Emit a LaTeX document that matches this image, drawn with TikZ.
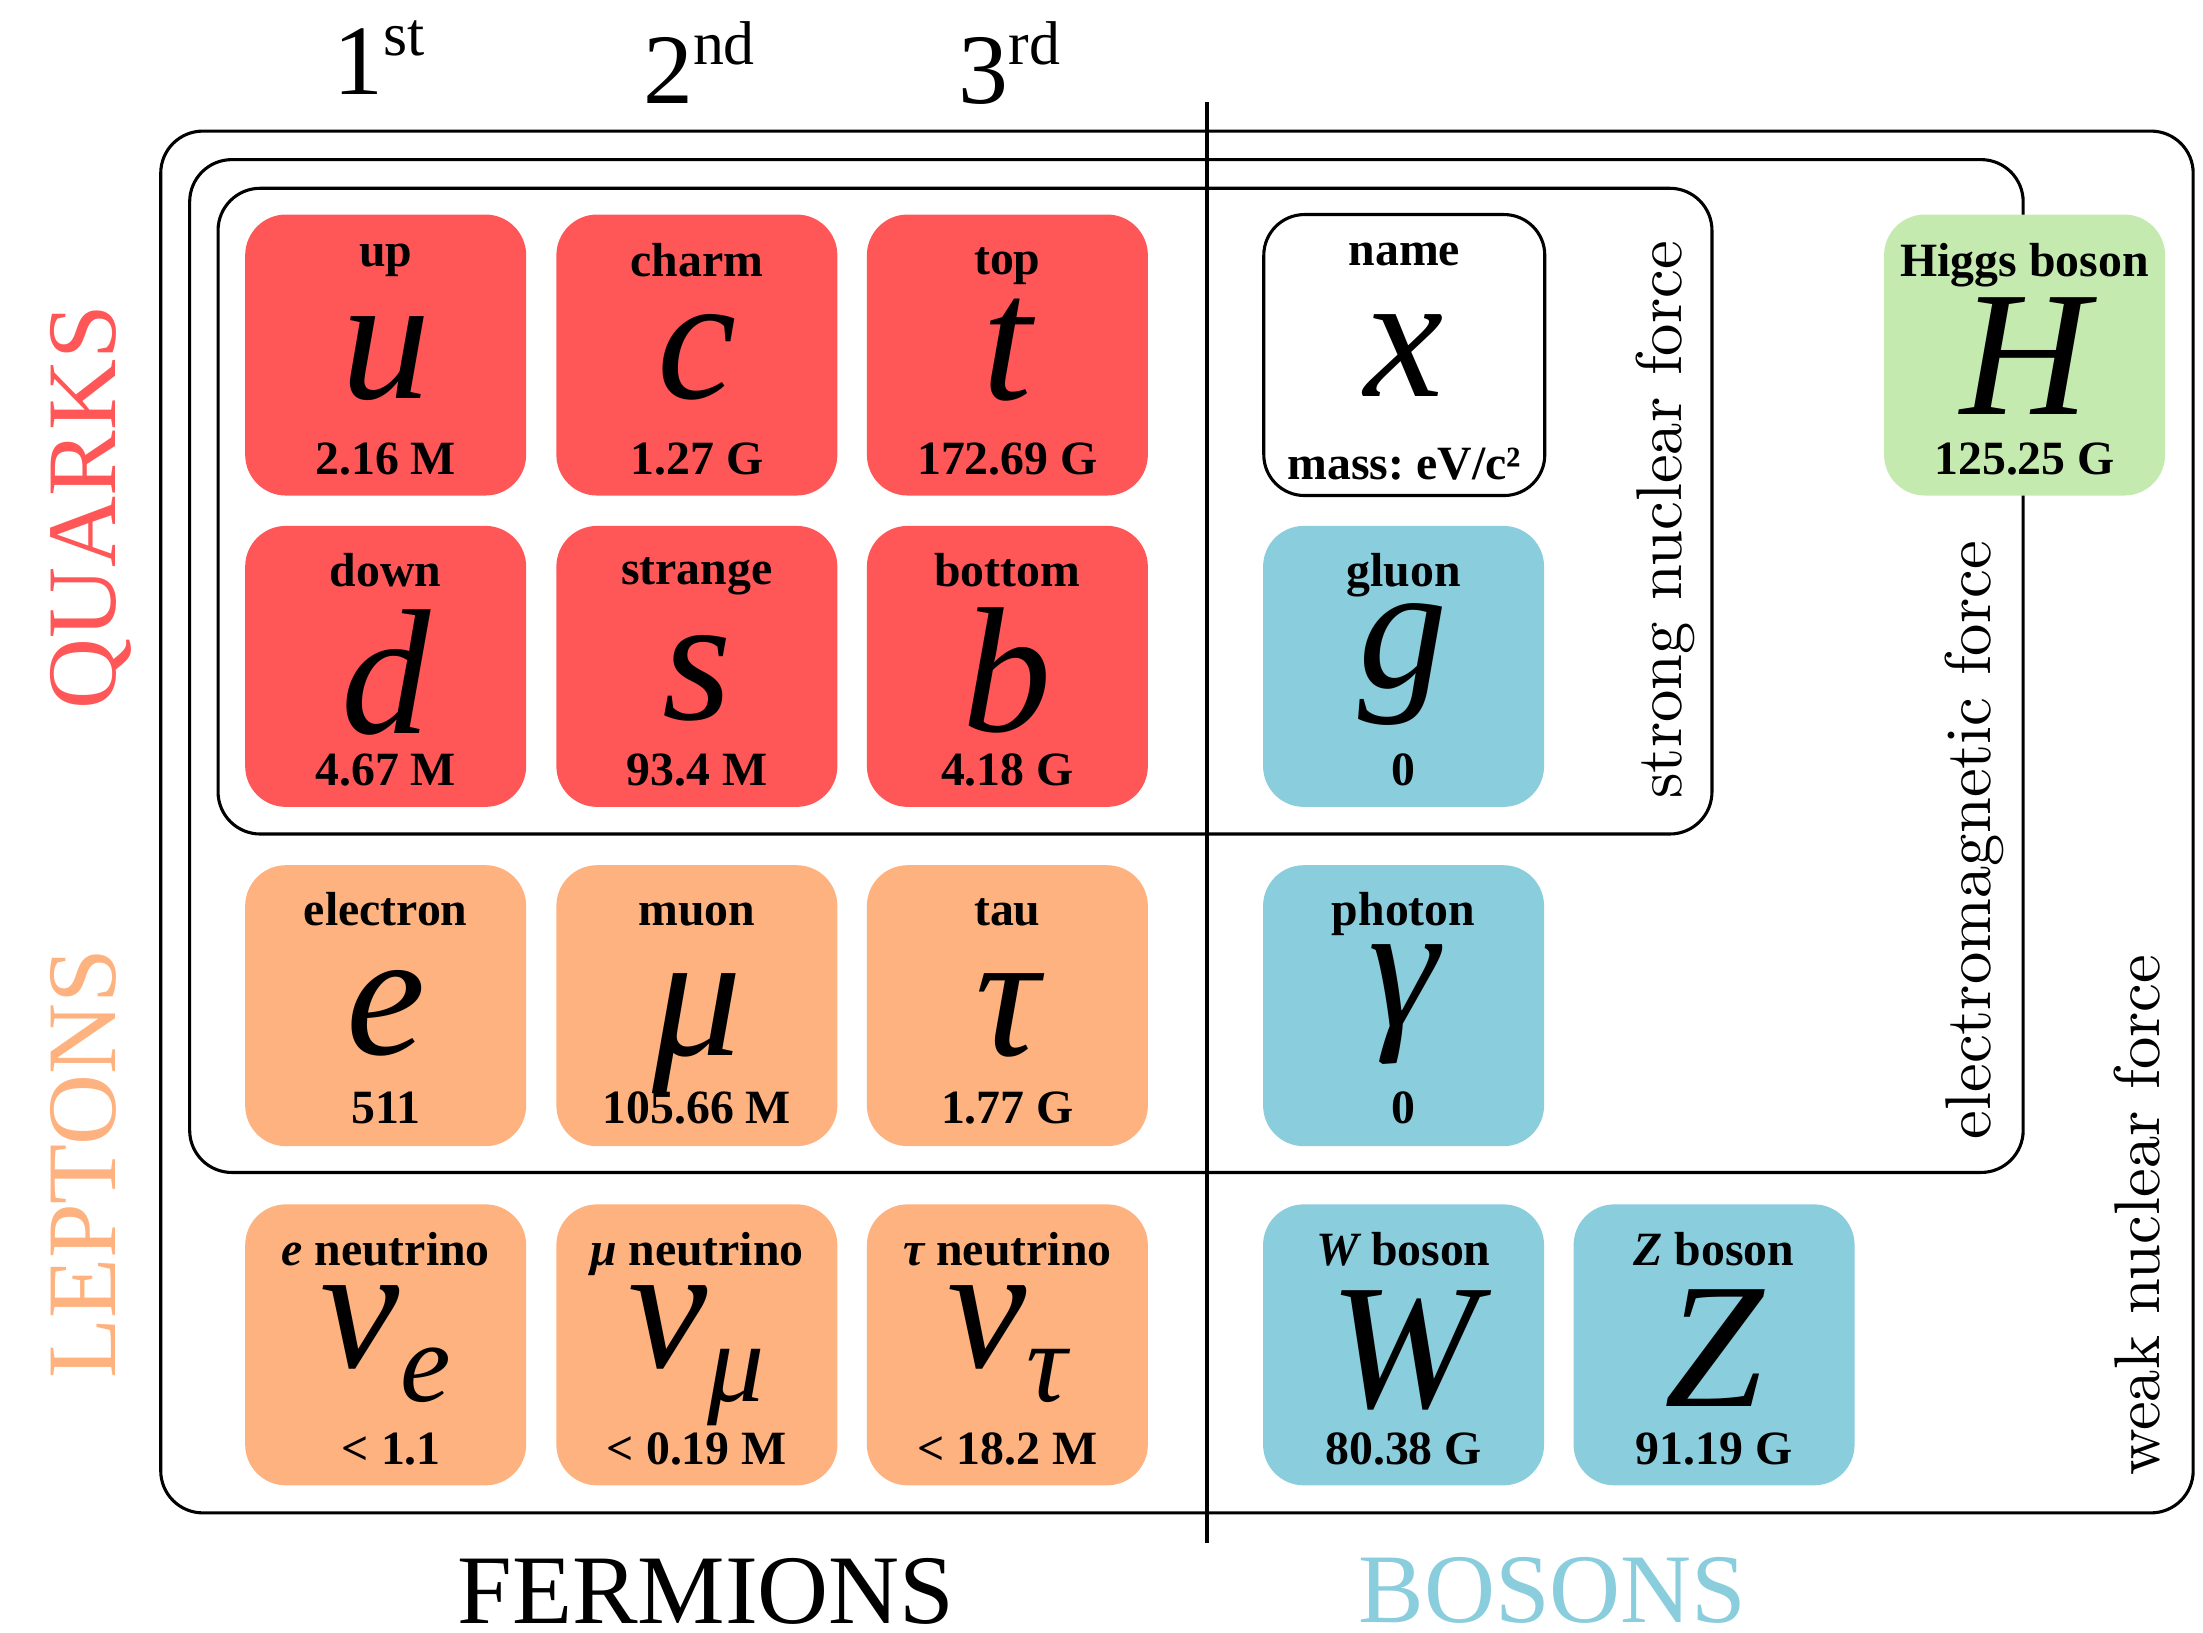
\documentclass[tikz,border=0pt]{standalone}
\usepackage{fontspec}
\newfontfamily\tnr{Liberation Serif}
\newfontfamily\lmten{lmroman10-regular.otf}
\definecolor{qred}{HTML}{FF5757}
\definecolor{lorange}{HTML}{FDB280}
\definecolor{bblue}{HTML}{8ACDDD}
\definecolor{hgreen}{HTML}{C5EAB0}
\newcommand{\fsz}[1]{\fontsize{#1}{#1}\selectfont}
\newcommand{\sub}[1]{\raisebox{-24pt}{\fsz{81}#1}}
\frenchspacing
\begin{document}
\begin{tikzpicture}[x=1pt,y=-1pt,
  card/.style={minimum width=200pt, minimum height=200pt, inner sep=0pt, rounded corners=29pt},
  lab/.style={anchor=base, inner sep=0pt, font=\tnr\bfseries\fsz{34}},
  sym/.style={anchor=base, inner sep=0pt, font=\tnr\itshape\fsz{127}},
  frame/.style={draw, line width=2.2pt, rounded corners=30pt},
  force/.style={anchor=base, rotate=90, inner sep=0pt, font=\lmten\fsz{46}},
  head/.style={anchor=base, inner sep=0pt, font=\tnr\fsz{71}},
  big/.style={anchor=base, inner sep=0pt, font=\tnr\fsz{70}},
]
\useasboundingbox (0,0) rectangle (1568,1161.6);

% frames
\draw[frame] (114.4,93.3) rectangle (1561,1076.8);
\draw[frame] (135,113.6) rectangle (1440,834.5);
\draw[frame] (155.2,134) rectangle (1218.5,593.6);
\coordinate (divtop) at (859,72.5);
\coordinate (divbot) at (859,1098);
\draw[line width=2.4pt] (divtop) -- (divbot);

% headings
\node[head] (g1) at (270,67.5) {1\raisebox{28pt}{\fsz{44}st}};
\node[head] (g2) at (497.5,73.7) {2\raisebox{28pt}{\fsz{44}nd}};
\node[head] (g3) at (718.5,73.7) {3\raisebox{28pt}{\fsz{44}rd}};
\node[big] (ferm) at (502.5,1155.5) {FERMIONS};
\node[big, text=bblue] (bos) at (1105,1155) {BOSONS};
\node[big, rotate=90, text=qred] (quarks) at (82,361) {QUARKS};
\node[big, rotate=90, text=lorange] (leptons) at (82,828.5) {LEPTONS};

% force labels
\node[force] (strongf) at (1197,370) {strong nuclear force};
\node[force] (emf) at (1417,598) {electromagnetic force};
\node[force] (weakf) at (1537,865) {weak nuclear force};

% row 1
\node[card, fill=qred] (up) at (274.5,252.7) {};
\node[card, fill=qred] (charm) at (496,252.7) {};
\node[card, fill=qred] (top) at (717,252.7) {};
\node[card, fill=white, draw, line width=2.2pt] (name) at (999.5,252.7) {};
\node[card, fill=hgreen] (higgs) at (1441,252.7) {};
% row 2
\node[card, fill=qred] (down) at (274.5,474.3) {};
\node[card, fill=qred] (strange) at (496,474.3) {};
\node[card, fill=qred] (bottom) at (717,474.3) {};
\node[card, fill=bblue] (gluon) at (999,474.3) {};
% row 3
\node[card, fill=lorange] (electron) at (274.5,715.8) {};
\node[card, fill=lorange] (muon) at (496,715.8) {};
\node[card, fill=lorange] (tau) at (717,715.8) {};
\node[card, fill=bblue] (photon) at (999,715.8) {};
% row 4
\node[card, fill=lorange] (nue) at (274.5,957.2) {};
\node[card, fill=lorange] (numu) at (496,957.2) {};
\node[card, fill=lorange] (nutau) at (717,957.2) {};
\node[card, fill=bblue] (wb) at (999,957.2) {};
\node[card, fill=bblue] (zb) at (1220,957.2) {};

% texts row 1
\node[lab] at ([yshift=-37pt]up.north) {up};
\node[sym] at ([yshift=-130.8pt]up.north) {u};
\node[lab] at ([yshift=-185.5pt]up.north) {2.16 M};
\node[lab] at ([yshift=-44.5pt]charm.north) {charm};
\node[sym] at ([yshift=-130.8pt]charm.north) {c};
\node[lab] at ([yshift=-185.5pt]charm.north) {1.27 G};
\node[lab] at ([yshift=-43pt]top.north) {top};
\node[sym] at ([yshift=-131.8pt]top.north) {t};
\node[lab] at ([yshift=-185.5pt]top.north) {172.69 G};
\node[lab] at ([yshift=-37.5pt]name.north) {name};
\node[sym] at ([yshift=-130.3pt]name.north) {x};
\node[lab] at ([yshift=-190pt]name.north) {mass: eV/c²};
\node[lab] at ([yshift=-44.4pt]higgs.north) {Higgs boson};
\node[sym] at ([yshift=-142.6pt]higgs.north) {H};
\node[lab] at ([yshift=-185pt]higgs.north) {125.25 G};
% texts row 2
\node[lab] at ([yshift=-43.5pt]down.north) {down};
\node[sym] at ([yshift=-148.2pt]down.north) {d};
\node[lab] at ([yshift=-185pt]down.north) {4.67 M};
\node[lab] at ([yshift=-42pt]strange.north) {strange};
\node[sym] at ([yshift=-137.7pt]strange.north) {s};
\node[lab] at ([yshift=-185pt]strange.north) {93.4 M};
\node[lab] at ([yshift=-43.5pt]bottom.north) {bottom};
\node[sym] at ([yshift=-146.7pt]bottom.north) {b};
\node[lab] at ([yshift=-185pt]bottom.north) {4.18 G};
\node[lab] at ([yshift=-43.5pt]gluon.north) {gluon};
\node[sym] at ([yshift=-115.5pt]gluon.north) {g};
\node[lab] at ([yshift=-185pt]gluon.north) {0};
% texts row 3
\node[lab] at ([yshift=-43pt]electron.north) {electron};
\node[sym] at ([yshift=-135.2pt]electron.north) {e};
\node[lab] at ([yshift=-184pt]electron.north) {511};
\node[lab] at ([yshift=-43pt]muon.north) {muon};
\node[sym] at ([yshift=-135.7pt]muon.north) {μ};
\node[lab] at ([yshift=-184pt]muon.north) {105.66 M};
\node[lab] at ([yshift=-43pt]tau.north) {tau};
\node[sym] at ([yshift=-135.7pt]tau.north) {τ};
\node[lab] at ([yshift=-184pt]tau.north) {1.77 G};
\node[lab] at ([yshift=-43pt]photon.north) {photon};
\node[sym] at ([yshift=-115pt]photon.north) {γ};
\node[lab] at ([yshift=-184pt]photon.north) {0};
% texts row 4
\node[lab] at ([yshift=-44pt]nue.north) {\itshape e\upshape{} neutrino};
\node[sym] at ([yshift=-116.5pt]nue.north) {ν\sub{e}};
\node[lab] at ([xshift=4pt,yshift=-185pt]nue.north) {< 1.1};
\node[lab] at ([yshift=-44pt]numu.north) {\itshape μ\upshape{} neutrino};
\node[sym] at ([yshift=-116.5pt]numu.north) {ν\sub{μ}};
\node[lab] at ([yshift=-185pt]numu.north) {< 0.19 M};
\node[lab] at ([yshift=-44pt]nutau.north) {\itshape τ\upshape{} neutrino};
\node[sym] at ([yshift=-116.5pt]nutau.north) {ν\sub{τ}};
\node[lab] at ([yshift=-185pt]nutau.north) {< 18.2 M};
\node[lab] at ([yshift=-44pt]wb.north) {\itshape W\upshape{} boson};
\node[sym] at ([yshift=-144.5pt]wb.north) {W};
\node[lab] at ([yshift=-185pt]wb.north) {80.38 G};
\node[lab] at ([yshift=-44pt]zb.north) {\itshape Z\upshape{} boson};
\node[sym] at ([yshift=-144pt]zb.north) {Z};
\node[lab] at ([yshift=-185pt]zb.north) {91.19 G};
\end{tikzpicture}
\end{document}
